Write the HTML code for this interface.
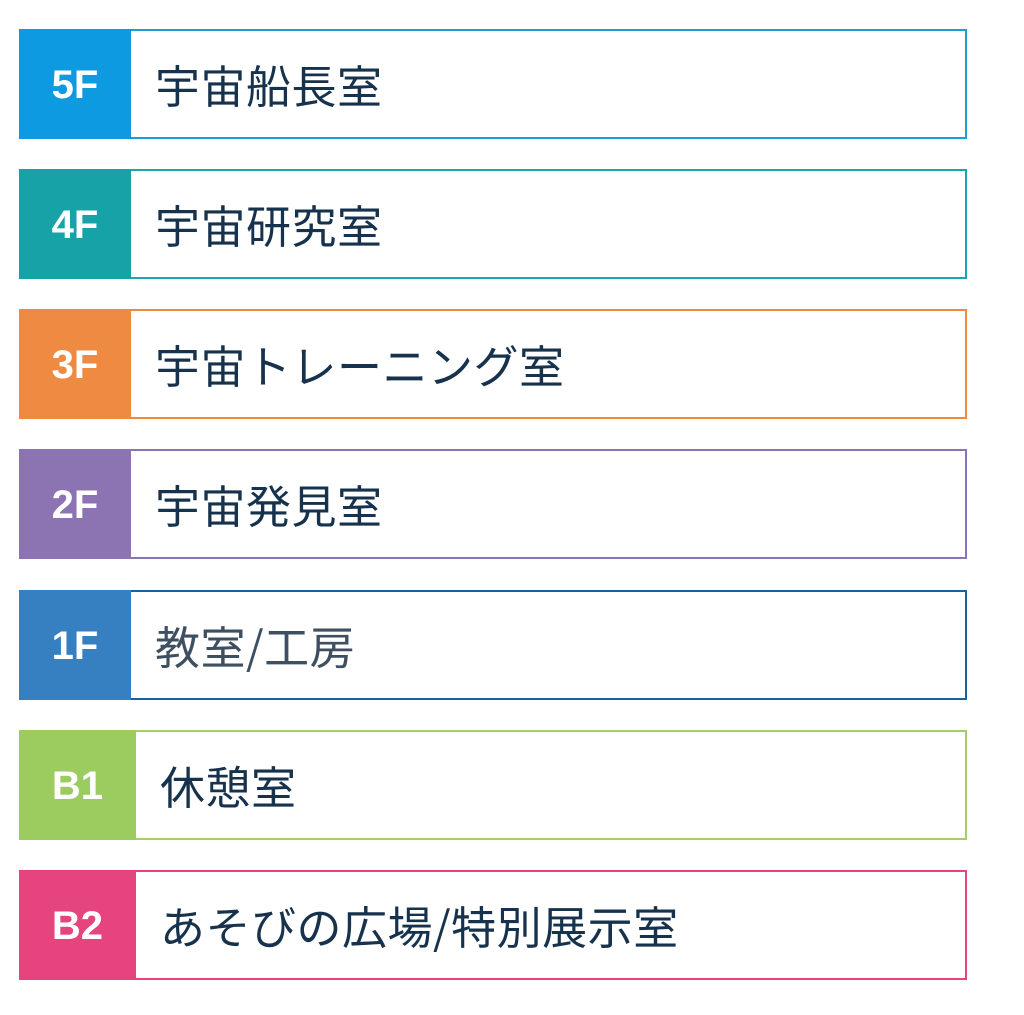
<!DOCTYPE html>
<html><head><meta charset="utf-8"><style>
body{margin:0;width:1024px;height:1015px;background:#fff;position:relative;font-family:"Liberation Sans","Noto Sans CJK JP",sans-serif;}
.r{position:absolute;left:19px;width:948px;height:110px;box-sizing:border-box;border:2px solid;background:#fff}
.l{position:absolute;left:-2px;top:-2px;height:110px;width:112px;color:#fff;font-weight:bold;font-size:40px;display:flex;align-items:center;justify-content:center;font-family:"Liberation Sans",sans-serif;padding-top:2px;box-sizing:border-box}
.t{position:absolute;left:134px;top:0;height:106px;line-height:106px;font-size:45px;color:#17324d;font-family:"Noto Sans CJK JP",sans-serif;letter-spacing:0.5px}
</style></head><body>
<div class="r" style="top:29px;border-color:#1b9fd6"><div class="l" style="background:#0e9ae0">5F</div><div class="t">宇宙船長室</div></div>
<div class="r" style="top:169px;border-color:#1aa5b0"><div class="l" style="background:#17a2a8">4F</div><div class="t">宇宙研究室</div></div>
<div class="r" style="top:309px;border-color:#ef8a43"><div class="l" style="background:#ef8a43">3F</div><div class="t">宇宙トレーニング室</div></div>
<div class="r" style="top:449px;border-color:#8c74b2"><div class="l" style="background:#8c74b2">2F</div><div class="t">宇宙発見室</div></div>
<div class="r" style="top:590px;border-color:#1d5f99"><div class="l" style="background:#3680c1">1F</div><div class="t" style="color:#3d4f60">教室/工房</div></div>
<div class="r" style="top:730px;border-color:#a3cd6a"><div class="l" style="background:#9ccb60;width:117px">B1</div><div class="t" style="left:139px">休憩室</div></div>
<div class="r" style="top:870px;border-color:#e5447f"><div class="l" style="background:#e5447f;width:117px">B2</div><div class="t" style="left:139px">あそびの広場/特別展示室</div></div>
</body></html>
